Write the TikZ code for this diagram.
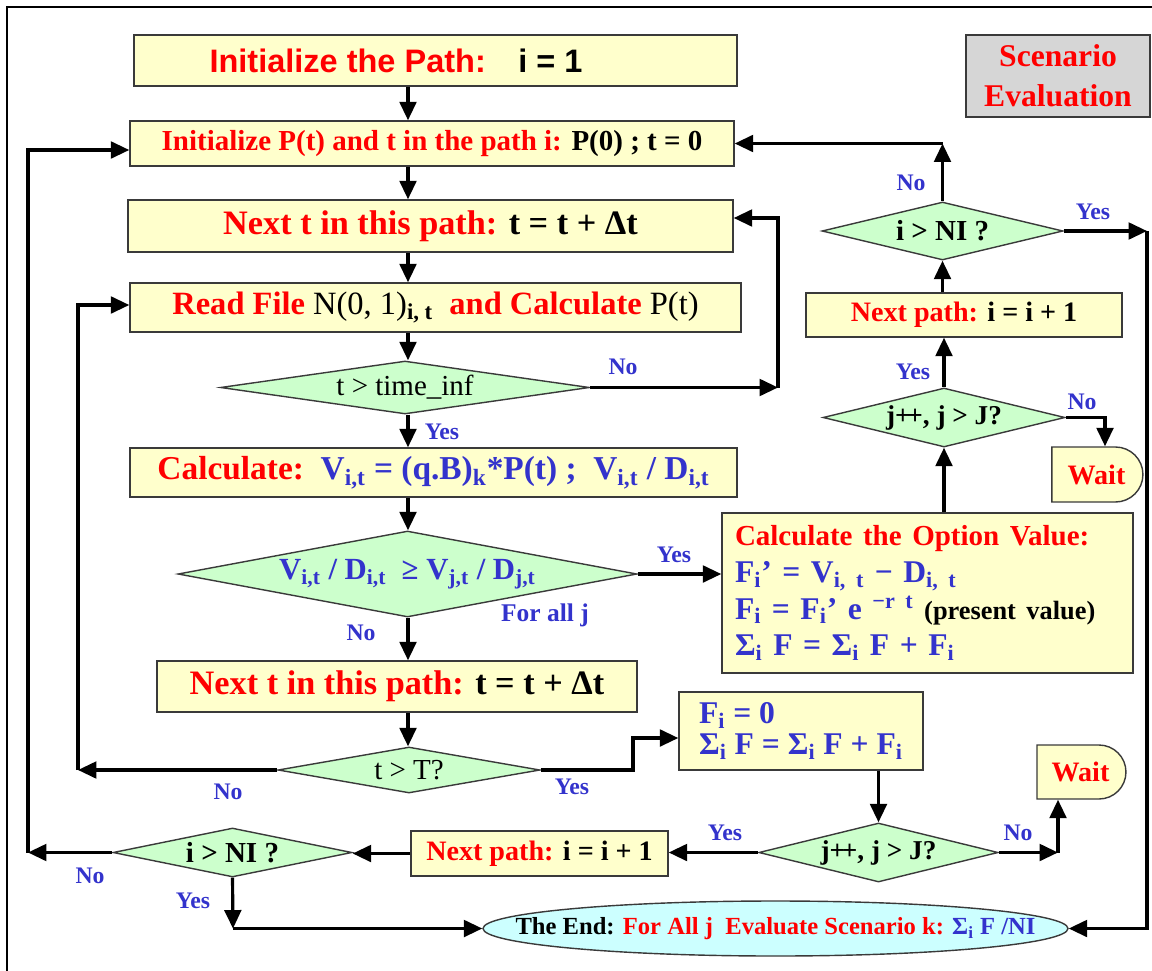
\documentclass[tikz,border=0pt]{standalone}
\usepackage{fontspec}
\setmainfont{Liberation Serif}
\newfontfamily\arialfont{Liberation Sans}
\usepackage{xcolor}
\usepackage{tikz}
\usetikzlibrary{arrows.meta,positioning,shapes.geometric,shapes.misc}

\definecolor{boxfill}{HTML}{FFFFCC}
\definecolor{testfill}{HTML}{CCFFCC}
\definecolor{endfill}{HTML}{CCFFFF}
\definecolor{scenfill}{HTML}{D6D6D6}
\definecolor{redtxt}{HTML}{FF0000}
\definecolor{bluetxt}{HTML}{3333CC}
\definecolor{edge}{HTML}{3A3A3A}

\begin{document}
\begin{tikzpicture}[x=0.02cm, y=-0.02cm, line join=miter,
  box/.style={draw=edge, line width=0.8pt, fill=boxfill, inner sep=0pt},
  test/.style={diamond, aspect=5, draw=edge, line width=0.8pt, fill=testfill, inner sep=0pt},
  waitbox/.style={rounded rectangle, rounded rectangle west arc=none, draw=edge, line width=0.8pt,
    fill=boxfill, inner sep=0pt, text=redtxt, font=\fontsize{16}{19}\selectfont\bfseries},
  endnode/.style={ellipse, draw=edge, line width=0.8pt, fill=endfill, inner sep=0pt},
  arr/.style={line width=1.8pt, -{Triangle[length=10.5pt,width=9.5pt]}},
  lbl/.style={text=bluetxt, inner sep=0pt, font=\fontsize{13.5}{16}\selectfont\bfseries}]
\def\pu{0.02cm}     % one pixel of the 1152 x 970 sheet
\useasboundingbox (0,0) rectangle (1152,970);
\draw[line width=1.7pt] (7,990) -- (7,7) -- (1170,7);

% ================= main column =================
\node[box, minimum width=603*\pu, minimum height=51*\pu, font=\arialfont\fontsize{18.5}{22}\selectfont\bfseries]
  (init) at (435.5,60.5) {\textcolor{redtxt}{Initialize the Path:}\quad i = 1\kern1.58cm};
\node[box, minimum width=604*\pu, minimum height=45*\pu, font=\fontsize{16.5}{20}\selectfont\bfseries]
  (ipt) at (432,143.5) {\textcolor{redtxt}{Initialize P(t) and t in the path i:} P(0) ; t = 0};
\node[box, minimum width=605*\pu, minimum height=52*\pu, font=\fontsize{19.5}{23}\selectfont\bfseries]
  (nextt) at (430.5,226) {\textcolor{redtxt}{Next t in this path:} t = t + Δt};
\node[box, minimum width=611*\pu, minimum height=49*\pu, font=\fontsize{18.5}{22}\selectfont]
  (readf) at (435.5,307.5) {\textcolor{redtxt}{\bfseries Read File} N(0, 1)\textsubscript{\bfseries i, t}\ \ \textcolor{redtxt}{\bfseries and Calculate} P(t)};
\node[test, minimum width=369*\pu, minimum height=53*\pu, font=\fontsize{16.5}{20}\selectfont]
  (d1) at (405,387.5) {t > time\_inf};
\node[box, minimum width=607*\pu, minimum height=49*\pu, text=bluetxt, font=\fontsize{19}{23}\selectfont\bfseries]
  (calcv) at (433.5,472.5) {\textcolor{redtxt}{Calculate:}\ \ V\textsubscript{i,t} = (q.B)\textsubscript{k}*P(t) ;\ \ V\textsubscript{i,t} / D\textsubscript{i,t}};
\node[test, minimum width=459*\pu, minimum height=86*\pu, text=bluetxt, font=\fontsize{17.5}{21}\selectfont\bfseries]
  (d2) at (407.5,574) {V\textsubscript{i,t} / D\textsubscript{i,t}\ \ ≥ V\textsubscript{j,t} / D\textsubscript{j,t}};
\node[box, minimum width=480*\pu, minimum height=51*\pu, font=\fontsize{19.5}{23}\selectfont\bfseries]
  (nextt2) at (397,686.5) {\textcolor{redtxt}{Next t in this path:} t = t + Δt};
\node[test, minimum width=262*\pu, minimum height=46*\pu, font=\fontsize{16.5}{20}\selectfont]
  (d3) at (409,770) {t > T?};

% ================= bottom row =================
\node[test, minimum width=239*\pu, minimum height=49*\pu, font=\fontsize{16.5}{20}\selectfont\bfseries]
  (dn2) at (232.5,852.5) {i > NI ?};
\node[box, minimum width=257*\pu, minimum height=45*\pu, font=\fontsize{16}{19}\selectfont\bfseries]
  (np2) at (539.5,853.5) {\textcolor{redtxt}{Next path:} i = i + 1};
\node[test, minimum width=237*\pu, minimum height=59*\pu, font=\fontsize{15.5}{19}\selectfont\bfseries]
  (dj2) at (878.5,852.5) {j+\kern-0.12em+, j > J?};
\node[box, minimum width=244*\pu, minimum height=78*\pu, align=left, text=bluetxt, font=\fontsize{18}{17.5}\selectfont\bfseries]
  (fzero) at (801,731) {F\textsubscript{i} = 0\\ Σ\textsubscript{i} F = Σ\textsubscript{i} F + F\textsubscript{i}};
\node[waitbox, minimum width=89*\pu, minimum height=54*\pu] (wait2) at (1080.5,772) {Wait};
\node[endnode, minimum width=585*\pu, minimum height=55*\pu, font=\fontsize{14}{17}\selectfont\bfseries]
  (theend) at (775.5,928.5) {\makebox[0pt]{The End: \textcolor{redtxt}{For All j\ \ Evaluate Scenario k:} \textcolor{bluetxt}{Σ\textsubscript{i} F /NI}}};

% ================= right column =================
\node[box, fill=scenfill, minimum width=184*\pu, minimum height=82*\pu, align=center, text=redtxt,
  font=\fontsize{18}{22.7}\selectfont\bfseries] (scen) at (1058,76) {Scenario\\Evaluation};
\node[test, minimum width=241*\pu, minimum height=58*\pu, font=\fontsize{16.5}{20}\selectfont\bfseries]
  (dn1) at (942.5,231) {i > NI ?};
\node[box, minimum width=316*\pu, minimum height=44*\pu, font=\fontsize{16}{19}\selectfont\bfseries]
  (np1) at (964,315) {\textcolor{redtxt}{Next path:} i = i + 1};
\node[test, minimum width=242*\pu, minimum height=59*\pu, font=\fontsize{15.5}{19}\selectfont\bfseries]
  (dj1) at (944,417.5) {j+\kern-0.12em+, j > J?};
\node[waitbox, minimum width=91*\pu, minimum height=55*\pu] (wait1) at (1096.5,474.5) {Wait};
\node[box, minimum width=411*\pu, minimum height=160*\pu, text width=385*\pu, inner xsep=13*\pu, align=left,
  text=bluetxt, font=\fontsize{18}{21}\selectfont\bfseries] (opt) at (927.5,593)
  {{\color{redtxt}\fontsize{16.5}{21}\selectfont Calculate the Option Value:}\\
   F\textsubscript{i}’ = V\textsubscript{i, t} − D\textsubscript{i, t}\\
   F\textsubscript{i} = F\textsubscript{i}’ e \textsuperscript{−r t} {\color{black}\fontsize{15}{21}\selectfont(present value)}\\
   Σ\textsubscript{i} F = Σ\textsubscript{i} F + F\textsubscript{i}};

% ================= branch labels =================
\node[lbl] (noA) at (623,367) {No};
\node[lbl] (yesA) at (442,432) {Yes};
\node[lbl] (yesB) at (674,555) {Yes};
\node[lbl, font=\fontsize{14.5}{17}\selectfont\bfseries] (forall) at (545,615) {For all j};
\node[lbl] (noB) at (361,633) {No};
\node[lbl] (noC) at (228,792) {No};
\node[lbl] (yesC) at (572,787) {Yes};
\node[lbl] (yesD) at (725,833) {Yes};
\node[lbl] (noD) at (1018,833) {No};
\node[lbl] (noE) at (90,876) {No};
\node[lbl] (yesE) at (193,901) {Yes};
\node[lbl] (yesF) at (913,372) {Yes};
\node[lbl] (noF) at (1082,402) {No};
\node[lbl] (noG) at (911,183) {No};
\node[lbl] (yesG) at (1093,212) {Yes};

% ================= connectors =================
% ---------- main column, straight down ----------
\coordinate (colx) at (408,0);
\foreach \a/\b in {init/ipt, ipt/nextt, nextt/readf, readf/d1, d1/calcv, calcv/d2, d2/nextt2, nextt2/d3}
  \draw[arr] (\a.south -| colx) -- (\b.north -| colx);

% ---------- loops back on the left and middle ----------
\coordinate (cA) at (778,387.5);
\coordinate (cAt) at (778,218);
\draw[arr] (d1.east) -- (cA);
\draw[arr] (cA) -- (cAt) -- (cAt -| nextt.east);
\coordinate (cB) at (78,770);
\coordinate (cBt) at (78,305);
\draw[arr] (d3.west) -- (cB);
\draw[arr] (cB) -- (cBt) -- (cBt -| readf.west);
\coordinate (cC) at (633,770);
\coordinate (cCt) at (633,738);
\draw[arr] (d3.east) -- (cC) -- (cCt) -- (cCt -| fzero.west);
\draw[arr] (d2.east) -- (d2.east -| opt.west);

% ---------- bottom row ----------
\draw[arr] (dj2.north |- fzero.south) -- (dj2.north);
\draw[arr] (dj2.west) -- (dj2.west -| np2.east);
\coordinate (cD) at (1058,852.5);
\draw[arr] (dj2.east) -- (cD);
\draw[arr] (cD) -- (cD |- wait2.south);
\draw[arr] (np2.west) -- (np2.west -| dn2.east);
\coordinate (cE) at (28,852.5);
\coordinate (cEt) at (28,150);
\draw[arr] (dn2.west) -- (cE);
\draw[arr] (cE) -- (cEt) -- (cEt -| ipt.west);
\coordinate (cF) at (233,928.5);
\draw[arr] (dn2.south) -- (cF);
\draw[arr] (cF) -- (theend.west);

% ---------- right column, upwards ----------
\draw[arr] (dj1.south |- opt.north) -- (dj1.south);
\draw[arr] (dj1.north) -- (dj1.north |- np1.south);
\coordinate (cG) at (1105,417.5);
\draw[arr] (dj1.east) -- (cG) -- (cG |- wait1.north);
\draw[arr] (dn1.south |- np1.north) -- (dn1.south);
\coordinate (cH) at (942.5,143.5);
\draw[arr] (dn1.north) -- (cH);
\draw[arr] (cH) -- (cH -| ipt.east);
\coordinate (cI) at (1147,231);
\coordinate (cIb) at (1147,928.5);
\draw[arr] (dn1.east) -- (cI);
\draw[arr] (cI) -- (cIb) -- (theend.east);

\end{tikzpicture}
\end{document}
